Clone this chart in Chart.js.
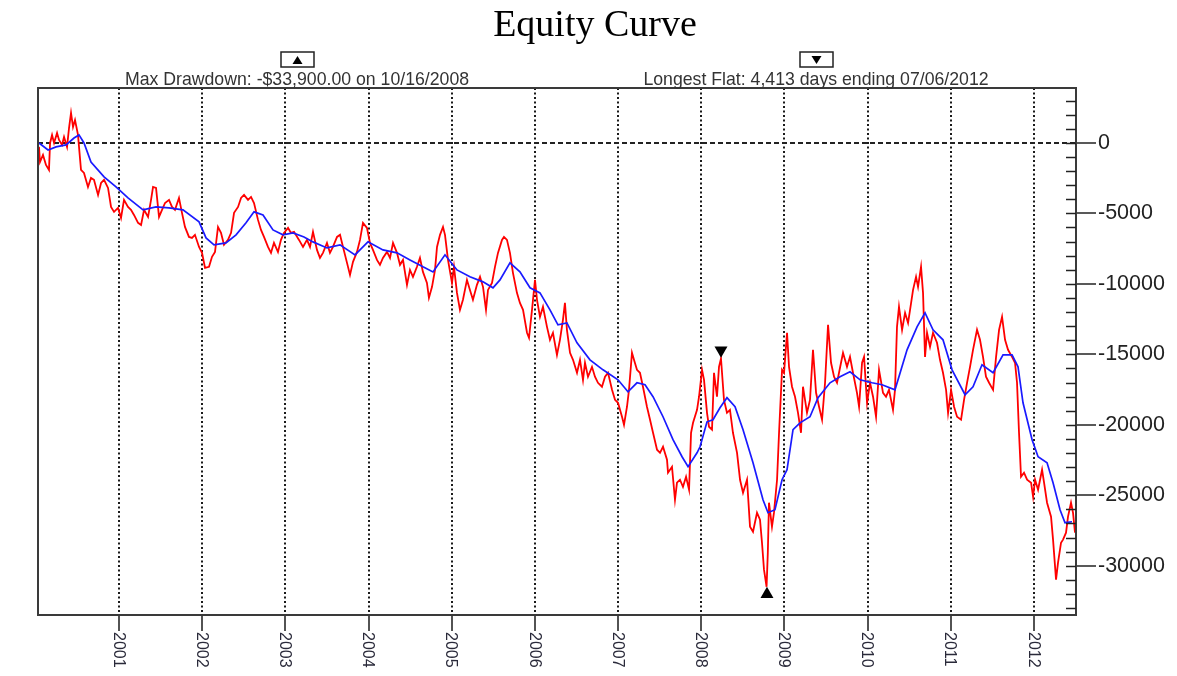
<!DOCTYPE html>
<html>
<head>
<meta charset="utf-8">
<title>Equity Curve</title>
<script src="https://cdn.jsdelivr.net/npm/chart.js@4.4.1/dist/chart.umd.min.js"></script>
<style>
  html, body { margin: 0; padding: 0; background: #fff; }
  #wrap { width: 1177px; height: 676px; }
</style>
</head>
<body>
<div id="wrap"><canvas id="equity" width="1177" height="676"></canvas></div>
<script>
// equity curve, dates as decimal years
const redDates = [
  2000.038,2000.050,2000.086,2000.122,2000.158,2000.171,2000.195,2000.219,2000.255,2000.279,
  2000.315,2000.339,2000.375,2000.399,2000.423,2000.447,2000.471,2000.507,2000.519,2000.543,
  2000.579,2000.627,2000.663,2000.699,2000.748,2000.784,2000.820,2000.868,2000.904,2000.940,
  2000.988,2001.024,2001.060,2001.108,2001.144,2001.180,2001.229,2001.265,2001.301,2001.349,
  2001.385,2001.409,2001.445,2001.481,2001.517,2001.553,2001.601,2001.637,2001.673,2001.721,
  2001.757,2001.793,2001.841,2001.877,2001.913,2001.962,2001.998,2002.034,2002.082,2002.118,
  2002.154,2002.190,2002.226,2002.262,2002.310,2002.347,2002.383,2002.431,2002.467,2002.503,
  2002.551,2002.587,2002.623,2002.671,2002.707,2002.743,2002.791,2002.827,2002.863,2002.911,
  2002.947,2002.983,2003.032,2003.068,2003.104,2003.164,2003.212,2003.260,2003.296,2003.332,
  2003.380,2003.416,2003.452,2003.500,2003.536,2003.572,2003.621,2003.657,2003.693,2003.741,
  2003.777,2003.813,2003.861,2003.897,2003.933,2003.981,2004.017,2004.053,2004.101,2004.137,
  2004.173,2004.222,2004.258,2004.294,2004.342,2004.378,2004.414,2004.462,2004.498,2004.534,
  2004.582,2004.618,2004.654,2004.702,2004.726,2004.763,2004.799,2004.823,2004.859,2004.895,
  2004.919,2004.955,2005.003,2005.027,2005.063,2005.099,2005.135,2005.183,2005.219,2005.255,
  2005.303,2005.340,2005.376,2005.412,2005.436,2005.484,2005.520,2005.556,2005.604,2005.628,
  2005.664,2005.700,2005.736,2005.784,2005.820,2005.857,2005.905,2005.929,2005.965,2006.001,
  2006.025,2006.061,2006.097,2006.145,2006.181,2006.217,2006.265,2006.301,2006.337,2006.361,
  2006.385,2006.422,2006.458,2006.506,2006.542,2006.578,2006.602,2006.638,2006.686,2006.722,
  2006.758,2006.806,2006.843,2006.879,2006.927,2006.963,2006.999,2007.047,2007.071,2007.107,
  2007.131,2007.167,2007.191,2007.227,2007.263,2007.299,2007.347,2007.384,2007.420,2007.468,
  2007.504,2007.540,2007.588,2007.600,2007.648,2007.684,2007.708,2007.744,2007.780,2007.817,
  2007.853,2007.877,2007.901,2007.949,2007.973,2008.009,2008.033,2008.069,2008.093,2008.129,
  2008.153,2008.189,2008.213,2008.237,2008.273,2008.309,2008.345,2008.381,2008.430,2008.466,
  2008.502,2008.550,2008.586,2008.622,2008.670,2008.706,2008.730,2008.754,2008.785,2008.800,
  2008.814,2008.850,2008.874,2008.911,2008.935,2008.971,2008.995,2009.031,2009.055,2009.091,
  2009.127,2009.163,2009.199,2009.223,2009.271,2009.307,2009.343,2009.380,2009.416,2009.452,
  2009.488,2009.524,2009.560,2009.596,2009.632,2009.680,2009.704,2009.752,2009.788,2009.824,
  2009.872,2009.897,2009.933,2009.957,2009.993,2010.029,2010.065,2010.101,2010.137,2010.185,
  2010.221,2010.257,2010.305,2010.329,2010.353,2010.377,2010.414,2010.450,2010.486,2010.510,
  2010.546,2010.582,2010.606,2010.642,2010.666,2010.690,2010.714,2010.750,2010.786,2010.834,
  2010.870,2010.906,2010.943,2010.967,2011.003,2011.039,2011.075,2011.123,2011.159,2011.195,
  2011.231,2011.267,2011.315,2011.351,2011.387,2011.423,2011.460,2011.508,2011.544,2011.580,
  2011.616,2011.652,2011.688,2011.736,2011.772,2011.796,2011.820,2011.844,2011.880,2011.917,
  2011.965,2011.989,2012.013,2012.049,2012.097,2012.121,2012.157,2012.205,2012.229,2012.265,
  2012.289,2012.325,2012.349,2012.385,2012.409,2012.445,2012.469,2012.493
];
const redEquity = [
  -280,-1350,-850,-1560,-1910,0,570,0,710,210,
  -140,430,-280,1060,2130,1130,1630,570,-280,-1910,
  -2130,-3120,-2480,-2620,-3690,-2840,-2620,-3190,-4540,-4890,
  -4610,-5320,-4040,-4540,-4750,-5110,-5670,-5820,-4750,-5250,
  -4040,-3120,-3190,-5250,-4750,-4260,-4040,-4540,-4750,-3900,
  -4960,-5960,-6670,-6740,-6520,-7380,-7800,-8870,-8790,-8080,
  -7730,-5960,-6380,-7230,-6880,-6380,-4960,-4540,-3900,-3690,
  -4040,-3830,-4260,-5460,-6170,-6670,-7380,-7800,-7090,-7730,
  -6880,-6380,-6030,-6380,-6310,-6880,-7380,-6880,-7380,-6310,
  -7590,-8160,-7800,-7090,-7800,-7380,-6670,-6520,-7380,-8510,
  -9360,-8440,-7730,-6880,-5670,-6030,-7090,-7590,-8300,-8650,
  -8160,-7730,-8160,-7090,-7800,-8650,-8300,-10070,-9010,-9500,
  -8790,-8160,-9150,-9930,-10990,-10210,-9010,-7380,-6520,-5960,
  -6520,-8300,-9930,-8790,-10640,-11840,-11130,-9720,-10430,-11130,
  -10070,-9500,-10210,-11840,-10430,-9930,-8790,-7800,-6880,-6670,
  -6880,-7800,-9220,-10640,-11350,-11840,-13470,-13830,-11840,-9720,
  -11130,-12340,-11630,-13050,-13970,-13470,-15040,-13970,-12550,-11350,
  -13260,-14890,-15390,-16310,-15390,-16810,-15600,-16590,-15890,-16590,
  -17020,-17300,-16590,-16310,-17520,-18230,-18440,-19430,-20000,-18720,
  -17520,-14890,-15390,-16100,-16310,-17300,-18720,-19640,-20570,-21770,
  -21990,-21560,-22480,-23400,-22980,-25320,-24110,-23900,-24400,-23690,
  -24610,-20570,-19860,-18940,-18010,-16100,-16810,-19150,-20140,-20350,
  -16310,-18010,-15890,-15300,-18230,-19150,-18940,-20570,-21990,-23900,
  -24820,-23900,-27230,-27590,-26240,-26740,-28370,-30280,-31500,-29080,
  -25530,-27230,-26240,-23900,-20570,-16100,-16310,-13470,-15890,-17300,
  -18010,-19150,-20570,-17300,-19150,-18230,-14680,-17730,-18720,-19640,
  -17020,-12910,-15600,-16590,-17020,-15600,-14890,-15890,-15180,-16310,
  -17730,-18720,-15600,-15180,-18440,-17020,-18010,-19430,-16100,-17730,
  -18010,-17520,-18940,-17520,-13050,-11630,-13260,-12060,-12770,-11840,
  -10430,-9500,-10210,-8790,-10640,-15180,-13470,-14470,-13470,-14180,
  -15390,-16310,-17520,-19150,-17520,-18720,-19430,-19640,-18230,-17020,
  -15890,-14680,-13260,-13970,-15180,-16590,-17020,-17520,-15180,-13260,
  -12340,-13970,-14680,-15180,-15600,-17020,-20570,-23690,-23400,-23900,
  -24110,-25110,-23900,-24610,-23190,-24110,-25530,-26520,-28150,-30990,
  -29790,-28370,-28150,-27660,-26520,-25530,-26240,-27660
];

// moving average line
const avgDates = [
  2000.038,2000.147,2000.243,2000.363,2000.459,2000.519,2000.579,2000.663,2000.820,2000.964,
  2001.108,2001.289,2001.445,2001.601,2001.769,2001.962,2002.046,2002.142,2002.286,2002.407,
  2002.527,2002.623,2002.731,2002.851,2002.971,2003.092,2003.224,2003.332,2003.500,2003.657,
  2003.837,2003.993,2004.173,2004.342,2004.498,2004.654,2004.775,2004.919,2005.063,2005.219,
  2005.376,2005.496,2005.580,2005.700,2005.820,2005.941,2006.061,2006.181,2006.277,2006.385,
  2006.506,2006.662,2006.819,2006.999,2007.119,2007.227,2007.324,2007.420,2007.540,2007.660,
  2007.769,2007.841,2007.949,2007.985,2008.069,2008.141,2008.225,2008.309,2008.406,2008.502,
  2008.622,2008.742,2008.802,2008.886,2008.971,2009.031,2009.103,2009.187,2009.307,2009.404,
  2009.548,2009.668,2009.788,2009.909,2010.053,2010.173,2010.329,2010.474,2010.594,2010.690,
  2010.786,2010.906,2011.015,2011.171,2011.267,2011.375,2011.508,2011.628,2011.736,2011.808,
  2011.868,2011.977,2012.049,2012.157,2012.229,2012.313,2012.373,2012.457
];
const avgEquity = [
  0,-500,-280,-140,350,570,0,-1350,-2410,-3120,
  -3900,-4750,-4540,-4610,-4750,-5600,-6740,-7230,-7090,-6520,
  -5670,-4890,-5110,-6170,-6520,-6380,-6670,-7020,-7450,-7230,
  -7940,-7020,-7590,-7800,-8300,-8790,-9150,-7940,-9010,-9500,
  -9860,-10280,-9720,-8510,-9150,-10280,-10640,-11840,-12910,-12770,
  -14180,-15390,-16100,-16810,-17660,-17020,-17160,-18010,-19430,-21060,
  -22270,-22980,-21990,-21560,-19790,-19640,-18790,-18080,-18720,-20350,
  -22690,-25320,-26240,-26030,-23900,-23190,-20350,-19860,-19430,-18080,
  -17020,-16590,-16240,-16810,-17020,-17160,-17520,-14680,-13050,-12060,
  -13260,-13970,-16100,-17870,-17300,-15740,-16310,-15040,-15040,-15890,
  -18440,-21060,-22270,-22690,-24110,-26030,-26950,-26880
];

// peak before max drawdown (down arrow) and the drawdown low (up arrow)
const markerDates = [2008.237, 2008.790];
const markerEquity = [-14720, -32020];

const yearTicks = [2001,2002,2003,2004,2005,2006,2007,2008,2009,2010,2011,2012];
const majorTicks = [0,-5000,-10000,-15000,-20000,-25000,-30000];
const yMinor = [];
for (let v = -33000; v <= 3000; v += 1000) yMinor.push(v);

const chartTitle = "Equity Curve";
const ddText = "Max Drawdown: -$33,900.00 on 10/16/2008";
const flatText = "Longest Flat: 4,413 days ending 07/06/2012";

function arrowBox(c, cx, up) {
  c.lineWidth = 1.5;
  c.strokeStyle = "#222";
  c.strokeRect(cx - 16.5, 52, 33, 15);
  c.fillStyle = "#000";
  c.beginPath();
  if (up) {
    c.moveTo(cx - 5, 64); c.lineTo(cx + 5, 64); c.lineTo(cx, 56);
  } else {
    c.moveTo(cx - 5, 56); c.lineTo(cx + 5, 56); c.lineTo(cx, 64);
  }
  c.closePath();
  c.fill();
}

const decor = {
  id: "decor",
  beforeDraw(chart) {
    const c = chart.ctx;
    c.save();
    c.fillStyle = "#fff";
    c.fillRect(0, 0, chart.width, chart.height);
    c.restore();
  },
  afterDraw(chart) {
    const c = chart.ctx, a = chart.chartArea;
    const xs = chart.scales.x, ys = chart.scales.y;
    c.save();
    // plot frame
    c.strokeStyle = "#3a3a3a";
    c.lineWidth = 2;
    c.strokeRect(a.left, a.top, a.right - a.left, a.bottom - a.top);
    // short inner ticks on the right axis
    c.strokeStyle = "#222";
    c.lineWidth = 1.5;
    yMinor.forEach(v => {
      const y = Math.round(ys.getPixelForValue(v)) + 0.5;
      c.beginPath(); c.moveTo(a.right - 10, y); c.lineTo(a.right, y); c.stroke();
    });
    // year labels, rotated
    c.fillStyle = "#2a2a3a";
    c.font = '16px "Liberation Sans", Arial, sans-serif';
    c.textAlign = "left";
    c.textBaseline = "middle";
    yearTicks.forEach(v => {
      c.save();
      c.translate(xs.getPixelForValue(v), a.bottom + 17);
      c.rotate(Math.PI / 2);
      c.fillText(String(v), 0, 1);
      c.restore();
    });
    // title
    c.fillStyle = "#000";
    c.font = '38px "Liberation Serif", "Times New Roman", serif';
    c.textAlign = "center";
    c.textBaseline = "alphabetic";
    c.fillText(chartTitle, 595, 36);
    // annotations
    arrowBox(c, 297.5, true);
    arrowBox(c, 816.5, false);
    c.fillStyle = "#333";
    c.font = '17.7px "Liberation Sans", Arial, sans-serif';
    c.fillText(ddText, 297, 85);
    c.fillText(flatText, 816, 85);
    c.restore();
  }
};

new Chart(document.getElementById("equity"), {
  type: "line",
  data: {
    datasets: [
      {
        label: "markers",
        data: markerDates.map((d, i) => ({ x: d, y: markerEquity[i] })),
        showLine: false,
        pointStyle: "triangle",
        pointRotation: [180, 0],
        pointRadius: 7.5,
        pointBackgroundColor: "#000",
        pointBorderColor: "#000",
        pointBorderWidth: 0,
        order: 0
      },
      {
        label: "average",
        data: avgDates.map((d, i) => ({ x: d, y: avgEquity[i] })),
        borderColor: "#1a1aff",
        borderWidth: 1.7,
        pointRadius: 0,
        tension: 0,
        order: 1
      },
      {
        label: "equity",
        data: redDates.map((d, i) => ({ x: d, y: redEquity[i] })),
        borderColor: "#ff0000",
        borderWidth: 1.8,
        pointRadius: 0,
        tension: 0,
        order: 2
      }
    ]
  },
  options: {
    responsive: false,
    animation: false,
    devicePixelRatio: 1,
    layout: { padding: { left: 38, top: 88, right: 0, bottom: 0 } },
    plugins: {
      legend: { display: false },
      title: { display: false },
      tooltip: { enabled: false }
    },
    scales: {
      x: {
        type: "linear",
        min: 2000.026,
        max: 2012.505,
        afterBuildTicks: s => { s.ticks = yearTicks.map(v => ({ value: v })); },
        afterFit: s => { s.height = 61; },
        border: { display: false, dash: [2, 2.5] },
        grid: {
          color: "#1a1a1a",
          lineWidth: 2,
          borderDash: [2, 2.5],
          drawTicks: true,
          tickLength: 16,
          tickColor: "#1a1a1a",
          tickWidth: 1.5,
          tickBorderDash: []
        },
        ticks: { display: false }
      },
      y: {
        position: "right",
        min: -33500,
        max: 3900,
        afterBuildTicks: s => { s.ticks = yMinor.map(v => ({ value: v })); },
        afterFit: s => { s.width = 101; },
        border: { display: false, dash: [5, 3] },
        grid: {
          color: ctx => (ctx.tick && ctx.tick.value === 0) ? "#222" : "rgba(0,0,0,0)",
          lineWidth: 2,
          borderDash: [5, 3],
          drawTicks: true,
          tickLength: 20,
          tickColor: ctx => (ctx.tick && majorTicks.includes(ctx.tick.value)) ? "#222" : "rgba(0,0,0,0)",
          tickWidth: 1.5,
          tickBorderDash: []
        },
        ticks: {
          autoSkip: false,
          padding: 2,
          color: "#222",
          font: { family: "'Liberation Sans', Arial, sans-serif", size: 21.5 },
          callback: v => majorTicks.includes(v) ? String(v) : ""
        }
      }
    }
  },
  plugins: [decor]
});
</script>
</body>
</html>
